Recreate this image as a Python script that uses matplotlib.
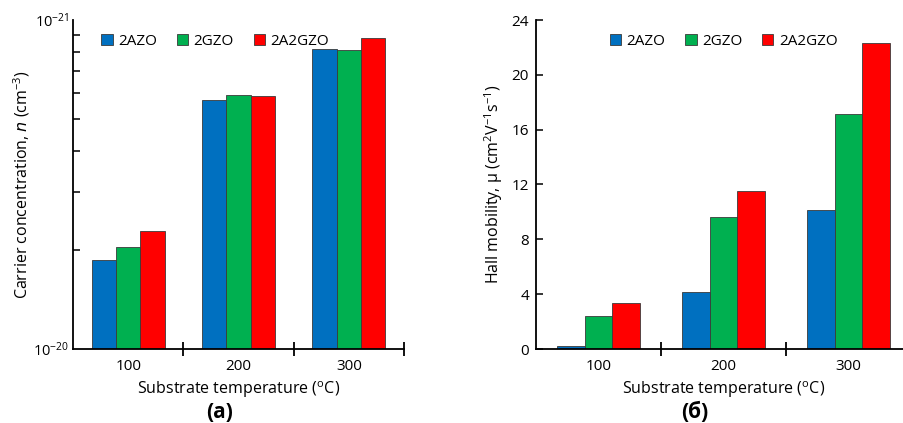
import matplotlib
matplotlib.use("Agg")
import matplotlib.pyplot as plt
import numpy as np
from matplotlib.ticker import FixedLocator, NullFormatter

plt.rcParams['font.family'] = ['Open Sans', 'DejaVu Sans']
plt.rcParams['mathtext.default'] = 'regular'

temps = ['100', '200', '300']
series = ['2AZO', '2GZO', '2A2GZO']
colors = ['#0070C0', '#00B050', '#FF0000']

# carrier concentration (log scale)
conc_2azo = [1.87e20, 5.70e20, 8.18e20]
conc_2gzo = [2.04e20, 5.91e20, 8.09e20]
conc_2a2gzo = [2.29e20, 5.88e20, 8.84e20]

# Hall mobility
mob_2azo = [0.24, 4.15, 10.15]
mob_2gzo = [2.38, 9.62, 17.12]
mob_2a2gzo = [3.35, 11.56, 22.32]

x = np.arange(len(temps))
w = 0.22


def draw_bars(ax, data, bottom=0):
    for i, (vals, c, name) in enumerate(zip(data, colors, series)):
        ax.bar(x + (i - 1) * w, np.array(vals) - bottom, w, bottom=bottom, color=c,
               edgecolor='#3a3a3a', linewidth=0.6, label=name, zorder=2)


def style_axis(ax, leg_x):
    ax.spines['top'].set_visible(False)
    ax.spines['right'].set_visible(False)
    for s in ['left', 'bottom']:
        ax.spines[s].set_linewidth(1.3)
    ax.set_xlim(-0.5, 2.5)
    ax.xaxis.set_major_locator(FixedLocator([0.5, 1.5, 2.5]))
    ax.xaxis.set_major_formatter(NullFormatter())
    ax.tick_params(axis='x', which='major', direction='inout', length=10, width=1.3)
    ax.xaxis.set_minor_locator(FixedLocator(x))
    ax.set_xticklabels(temps, minor=True)
    ax.tick_params(axis='x', which='minor', length=0, pad=7, labelsize=11)
    ax.set_xlabel('Substrate temperature ($^{o}$C)', fontsize=11.5, labelpad=4)
    ax.legend(loc='upper center', bbox_to_anchor=(leg_x, 1.0), ncol=3, frameon=False,
              fontsize=11, handlelength=0.75, handleheight=0.75, handletextpad=0.35,
              columnspacing=1.3)


fig = plt.figure(figsize=(9.04, 4.23), dpi=100)
ax1 = fig.add_axes([73 / 904, 74 / 423, 331 / 904, 329 / 423])
ax2 = fig.add_axes([536 / 904, 74 / 423, 375 / 904, 329 / 423])

# (a) carrier concentration
ax1.set_yscale('log')
draw_bars(ax1, [conc_2azo, conc_2gzo, conc_2a2gzo], bottom=1e20)
ax1.set_ylim(1e20, 1e21)
ax1.yaxis.set_major_locator(FixedLocator([1e20, 1e21]))
ax1.set_yticklabels(['$10^{-20}$', '$10^{-21}$'])
ax1.yaxis.set_minor_locator(FixedLocator([k * 1e20 for k in range(2, 10)]))
ax1.yaxis.set_minor_formatter(NullFormatter())
ax1.tick_params(axis='y', which='both', direction='in', width=1.1, labelsize=10.5)
ax1.tick_params(axis='y', which='major', length=0, pad=3)
ax1.tick_params(axis='y', which='minor', length=5)
ax1.set_ylabel('Carrier concentration, $\\it{n}$ (cm$^{-3}$)', fontsize=11.5, labelpad=1)
style_axis(ax1, 0.43)

# (б) Hall mobility
draw_bars(ax2, [mob_2azo, mob_2gzo, mob_2a2gzo])
ax2.set_ylim(0, 24)
ax2.set_yticks(np.arange(0, 25, 4))
ax2.tick_params(axis='y', direction='in', length=5, width=1.1, labelsize=11, pad=5)
ax2.set_ylabel('Hall mobility, μ (cm$^{2}$V$^{-1}$s$^{-1}$)', fontsize=11.5, labelpad=5)
style_axis(ax2, 0.5)

fig.text(220 / 904, 1 - 412 / 423, '(a)', ha='center', va='center', fontsize=15, fontweight='bold')
fig.text(695 / 904, 1 - 412 / 423, '(б)', ha='center', va='center', fontsize=15, fontweight='bold')

fig.savefig('out.png', dpi=100)
